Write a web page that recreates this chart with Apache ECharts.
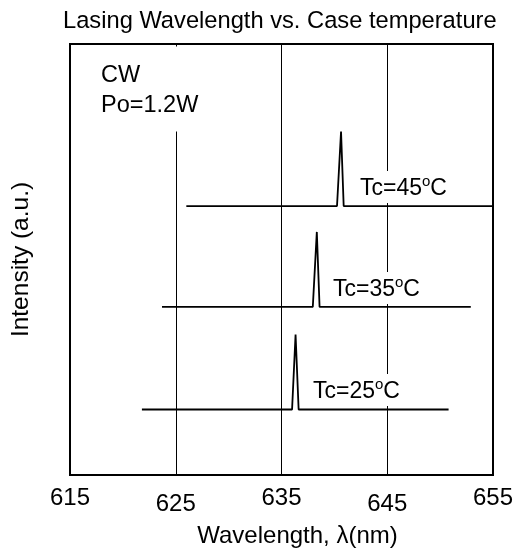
<!DOCTYPE html>
<html>
<head>
<meta charset="utf-8">
<script src="https://cdn.jsdelivr.net/npm/echarts@6/dist/echarts.min.js"></script>
<style>html,body{margin:0;padding:0;background:#fff}#c{width:517px;height:553px}</style>
</head>
<body>
<div id="c"></div>
<script>
// Wavelength (nm) and intensity (a.u., offset) for each case temperature
const wl25 = [621.8, 636.0, 636.33, 636.62, 650.8];
const int25 = [15.2, 15.2, 32.6, 15.2, 15.2];
const wl35 = [623.7, 637.96, 638.34, 638.6, 652.9];
const int35 = [39.0, 39.0, 56.4, 39.0, 39.0];
const wl45 = [626.0, 640.25, 640.63, 640.88, 655.0];
const int45 = [62.4, 62.4, 79.7, 62.4, 62.4];
const xTicks = [615, 625, 635, 645, 655];
const lowTicks = [625, 645];
const seriesNames = ['Tc=25°C', 'Tc=35°C', 'Tc=45°C'];

const FONT = "'Liberation Sans', Arial, sans-serif";
const pairs = (xs, ys) => xs.map((x, i) => [x, ys[i]]);
const lineStyle = { color: '#000', width: 1.8 };
const mkSeries = (name, xs, ys) => ({
  name, type: 'line', data: pairs(xs, ys), showSymbol: false, symbol: 'none',
  lineStyle, animation: false, z: 3
});
const tcRich = {
  s: { fontSize: 15, padding: [0, 0, 14, 0], fontFamily: FONT, fill: '#000' }
};
const tcLabel = (x, y, t) => ({
  type: 'text', x, y, z: 10,
  style: {
    text: t, fontSize: 23, fontFamily: FONT, fill: '#000',
    backgroundColor: '#fff', padding: [3, 3, 0, 3], rich: tcRich,
    verticalAlign: 'top', align: 'left'
  }
});

const chart = echarts.init(document.getElementById('c'), null, { renderer: 'canvas' });
chart.setOption({
  animation: false,
  backgroundColor: '#fff',
  title: {
    text: 'Lasing Wavelength vs. Case temperature',
    left: 63, top: 9, padding: 0,
    textStyle: { fontSize: 23.7, fontWeight: 'normal', color: '#000', fontFamily: FONT }
  },
  grid: { left: 70, right: 24, top: 44, bottom: 76, show: true, borderColor: '#000', borderWidth: 2, backgroundColor: 'transparent' },
  xAxis: {
    type: 'value', min: xTicks[0], max: xTicks[xTicks.length - 1], interval: 10,
    name: 'Wavelength, λ(nm)', nameLocation: 'middle', nameGap: 49,
    nameTextStyle: { fontSize: 24, color: '#000', fontFamily: FONT, padding: [0, 0, 0, 32] },
    axisLine: { show: false }, axisTick: { show: false },
    splitLine: { show: true, lineStyle: { color: '#000', width: 1 } },
    axisLabel: {
      margin: 11, color: '#000', fontSize: 24, fontFamily: FONT,
      formatter: v => (lowTicks.indexOf(v) >= 0 ? '{b|' + v + '}' : '{a|' + v + '}'),
      rich: {
        a: { fontSize: 24, fontFamily: FONT, color: '#000' },
        b: { fontSize: 24, fontFamily: FONT, color: '#000', padding: [6, 0, 0, 0] }
      }
    }
  },
  yAxis: {
    type: 'value', min: 0, max: 100,
    name: 'Intensity (a.u.)', nameLocation: 'middle', nameGap: 36, nameRotate: 90,
    nameTextStyle: { fontSize: 24.5, color: '#000', fontFamily: FONT },
    axisLine: { show: false }, axisTick: { show: false }, axisLabel: { show: false },
    splitLine: { show: false }
  },
  series: [
    mkSeries(seriesNames[0], wl25, int25),
    mkSeries(seriesNames[1], wl35, int35),
    mkSeries(seriesNames[2], wl45, int45)
  ],
  graphic: [
    {
      type: 'text', x: 99, y: 46.5, z: 10,
      style: {
        text: 'CW\nPo=1.2W', fontSize: 23.5, lineHeight: 30, fontFamily: FONT, fill: '#000',
        backgroundColor: '#fff', padding: [14, 4, 11, 2]
      }
    },
    tcLabel(310, 374, 'Tc=25{s|o}C'),
    tcLabel(330, 272, 'Tc=35{s|o}C'),
    tcLabel(357, 171, 'Tc=45{s|o}C')
  ]
});
</script>
</body>
</html>
